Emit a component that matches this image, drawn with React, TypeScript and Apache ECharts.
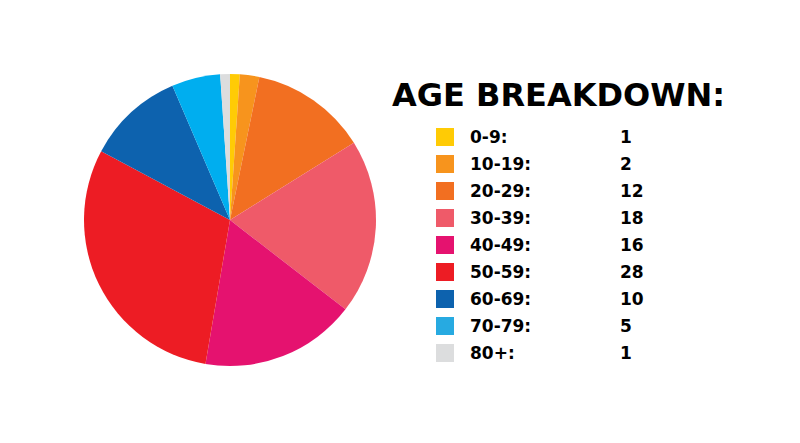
import React, { useEffect, useRef } from "react";
import * as echarts from "echarts";

const categories = ["0-9:", "10-19:", "20-29:", "30-39:", "40-49:", "50-59:", "60-69:", "70-79:", "80+:"];
const counts = [1, 2, 12, 18, 16, 28, 10, 5, 1];
const colors = ["#FFCB05", "#F7941D", "#F26F21", "#EF5A69", "#E5126F", "#ED1C24", "#0D62AE", "#00AEEF", "#DCDDDE"];
const legendColors = ["#FFCB05", "#F7941D", "#F26F21", "#EF5A69", "#E5126F", "#ED1C24", "#0D62AE", "#27AAE1", "#DCDDDE"];
const titleText = "AGE BREAKDOWN:";

const FONT = "DejaVu Sans";

export default function App() {
  const ref = useRef<HTMLDivElement>(null);
  useEffect(() => {
    if (!ref.current) return;
    const chart = echarts.init(ref.current, null, { renderer: "svg" });
    const data = categories.map((c, i) => ({
      name: c,
      value: counts[i],
      itemStyle: { color: colors[i] },
    }));
    chart.setOption({
      animation: false,
      backgroundColor: "#ffffff",
      title: {
        text: titleText,
        left: 387,
        top: 74,
        textStyle: { fontFamily: FONT, fontWeight: "bold", fontSize: 32, color: "#000000" },
      },
      legend: {
        orient: "vertical",
        left: 431,
        top: 123,
        icon: "rect",
        itemWidth: 18,
        itemHeight: 18,
        itemGap: 9,
        selectedMode: false,
        data: categories.map((c, i) => ({ name: c, itemStyle: { color: legendColors[i] } })),
        formatter: (name: string) => {
          const i = categories.indexOf(name);
          return `{a|${name}}{b|${counts[i]}}`;
        },
        textStyle: {
          rich: {
            a: { fontFamily: FONT, fontWeight: "bold", fontSize: 17, color: "#000", width: 150, padding: [0, 0, 0, 11] },
            b: { fontFamily: FONT, fontWeight: "bold", fontSize: 17, color: "#000" },
          },
        },
      },
      series: [
        {
          type: "pie",
          center: [230, 220],
          radius: [0, 146],
          startAngle: 90,
          clockwise: true,
          label: { show: false },
          labelLine: { show: false },
          emphasis: { disabled: true },
          data,
        },
      ],
    });
    return () => chart.dispose();
  }, []);
  return <div ref={ref} style={{ width: 800, height: 443, position: "absolute", left: 0, top: 0 }} />;
}
